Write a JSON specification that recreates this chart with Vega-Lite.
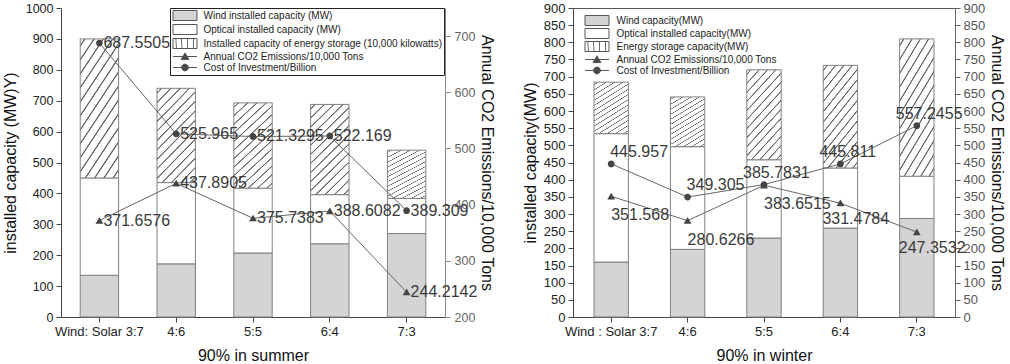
{
  "$schema": "https://vega.github.io/schema/vega-lite/v6.json",
  "padding": {"left": 2, "right": 2, "top": 1, "bottom": 0},
  "spacing": 26,
  "config": {
    "font": "Liberation Sans",
    "view": {"stroke": null},
    "axis": {"grid": false, "titleFontWeight": "normal", "titleFont": "Liberation Sans", "labelFont": "Liberation Sans"}
  },
  "resolve": {"scale": {"fill": "independent", "shape": "independent"}},
  "datasets": {
    "summerBars": [
      {"ratio": "Wind: Solar 3:7", "series": "Wind installed capacity (MW)", "value": 135},
      {"ratio": "Wind: Solar 3:7", "series": "Optical installed capacity (MW)", "value": 315},
      {"ratio": "Wind: Solar 3:7", "series": "Installed capacity of energy storage (10,000 kilowatts)", "value": 450},
      {"ratio": "4:6", "series": "Wind installed capacity (MW)", "value": 172},
      {"ratio": "4:6", "series": "Optical installed capacity (MW)", "value": 263},
      {"ratio": "4:6", "series": "Installed capacity of energy storage (10,000 kilowatts)", "value": 305},
      {"ratio": "5:5", "series": "Wind installed capacity (MW)", "value": 207},
      {"ratio": "5:5", "series": "Optical installed capacity (MW)", "value": 210},
      {"ratio": "5:5", "series": "Installed capacity of energy storage (10,000 kilowatts)", "value": 276},
      {"ratio": "6:4", "series": "Wind installed capacity (MW)", "value": 237},
      {"ratio": "6:4", "series": "Optical installed capacity (MW)", "value": 159},
      {"ratio": "6:4", "series": "Installed capacity of energy storage (10,000 kilowatts)", "value": 292},
      {"ratio": "7:3", "series": "Wind installed capacity (MW)", "value": 270},
      {"ratio": "7:3", "series": "Optical installed capacity (MW)", "value": 114},
      {"ratio": "7:3", "series": "Installed capacity of energy storage (10,000 kilowatts)", "value": 156}
    ],
    "summerLines": [
      {"ratio": "Wind: Solar 3:7", "series": "Annual CO2 Emissions/10,000 Tons", "value": 371.6576},
      {"ratio": "4:6", "series": "Annual CO2 Emissions/10,000 Tons", "value": 437.8905},
      {"ratio": "5:5", "series": "Annual CO2 Emissions/10,000 Tons", "value": 375.7383},
      {"ratio": "6:4", "series": "Annual CO2 Emissions/10,000 Tons", "value": 388.6082},
      {"ratio": "7:3", "series": "Annual CO2 Emissions/10,000 Tons", "value": 244.2142},
      {"ratio": "Wind: Solar 3:7", "series": "Cost of Investment/Billion", "value": 687.5505},
      {"ratio": "4:6", "series": "Cost of Investment/Billion", "value": 525.965},
      {"ratio": "5:5", "series": "Cost of Investment/Billion", "value": 521.3295},
      {"ratio": "6:4", "series": "Cost of Investment/Billion", "value": 522.169},
      {"ratio": "7:3", "series": "Cost of Investment/Billion", "value": 389.309}
    ],
    "winterBars": [
      {"ratio": "Wind : Solar 3:7", "series": "Wind capacity(MW)", "value": 160},
      {"ratio": "Wind : Solar 3:7", "series": "Optical installed capacity(MW)", "value": 374},
      {"ratio": "Wind : Solar 3:7", "series": "Energy storage capacity(MW)", "value": 150},
      {"ratio": "4:6", "series": "Wind capacity(MW)", "value": 197},
      {"ratio": "4:6", "series": "Optical installed capacity(MW)", "value": 299},
      {"ratio": "4:6", "series": "Energy storage capacity(MW)", "value": 145},
      {"ratio": "5:5", "series": "Wind capacity(MW)", "value": 230},
      {"ratio": "5:5", "series": "Optical installed capacity(MW)", "value": 228},
      {"ratio": "5:5", "series": "Energy storage capacity(MW)", "value": 262},
      {"ratio": "6:4", "series": "Wind capacity(MW)", "value": 259},
      {"ratio": "6:4", "series": "Optical installed capacity(MW)", "value": 175},
      {"ratio": "6:4", "series": "Energy storage capacity(MW)", "value": 299},
      {"ratio": "7:3", "series": "Wind capacity(MW)", "value": 287},
      {"ratio": "7:3", "series": "Optical installed capacity(MW)", "value": 123},
      {"ratio": "7:3", "series": "Energy storage capacity(MW)", "value": 400}
    ],
    "winterLines": [
      {"ratio": "Wind : Solar 3:7", "series": "Annual CO2 Emissions/10,000 Tons", "value": 351.568},
      {"ratio": "4:6", "series": "Annual CO2 Emissions/10,000 Tons", "value": 280.6266},
      {"ratio": "5:5", "series": "Annual CO2 Emissions/10,000 Tons", "value": 383.6515},
      {"ratio": "6:4", "series": "Annual CO2 Emissions/10,000 Tons", "value": 331.4784},
      {"ratio": "7:3", "series": "Annual CO2 Emissions/10,000 Tons", "value": 247.3532},
      {"ratio": "Wind : Solar 3:7", "series": "Cost of Investment/Billion", "value": 445.957},
      {"ratio": "4:6", "series": "Cost of Investment/Billion", "value": 349.305},
      {"ratio": "5:5", "series": "Cost of Investment/Billion", "value": 385.7831},
      {"ratio": "6:4", "series": "Cost of Investment/Billion", "value": 445.811},
      {"ratio": "7:3", "series": "Cost of Investment/Billion", "value": 557.2455}
    ]
  },
  "hconcat": [
    {
      "width": 384,
      "height": 309,
      "resolve": {"scale": {"y": "independent"}},
      "layer": [
        {
          "data": {"name": "summerBars"},
          "mark": {"type": "bar", "stroke": "#808080", "strokeWidth": 1},
          "encoding": {
            "x": {"field": "ratio", "type": "nominal", "sort": ["Wind: Solar 3:7", "4:6", "5:5", "6:4", "7:3"],
              "scale": {"paddingInner": 0.5, "paddingOuter": 0.25},
              "axis": {"title": "90% in summer", "labelAngle": 0, "tickSize": 5, "labelPadding": 3, "labelFontSize": 13, "labelColor": "#222", "titleFontSize": 16, "titleColor": "#111", "titlePadding": 9, "domainColor": "#444", "tickColor": "#444"}},
            "y": {"field": "value", "type": "quantitative", "stack": "zero",
              "scale": {"domain": [0, 1000], "nice": false},
              "axis": {"title": "installed capacity (MW)Y)", "format": "d", "values": [0, 100, 200, 300, 400, 500, 600, 700, 800, 900, 1000], "tickSize": 5, "labelPadding": 3, "labelFontSize": 12.5, "labelColor": "#222", "titleFontSize": 16, "titleColor": "#111", "titlePadding": 7, "domainColor": "#444", "tickColor": "#444"}},
            "fill": {"field": "series", "type": "nominal",
              "scale": {
                "domain": ["Wind installed capacity (MW)", "Optical installed capacity (MW)", "Installed capacity of energy storage (10,000 kilowatts)", "Annual CO2 Emissions/10,000 Tons", "Cost of Investment/Billion"],
                "range": [
                  "#d4d4d4",
                  "#ffffff",
                  {"expr": "{gradient:'linear',x1:0,y1:0,x2:0.5,y2:1.2,stops:[{offset:0,color:'#fff'},{offset:0.0267,color:'#fff'},{offset:0.0327,color:'#666'},{offset:0.0387,color:'#666'},{offset:0.0447,color:'#fff'},{offset:0.0981,color:'#fff'},{offset:0.1041,color:'#666'},{offset:0.1101,color:'#666'},{offset:0.1161,color:'#fff'},{offset:0.1696,color:'#fff'},{offset:0.1756,color:'#666'},{offset:0.1816,color:'#666'},{offset:0.1876,color:'#fff'},{offset:0.241,color:'#fff'},{offset:0.247,color:'#666'},{offset:0.253,color:'#666'},{offset:0.259,color:'#fff'},{offset:0.3124,color:'#fff'},{offset:0.3184,color:'#666'},{offset:0.3244,color:'#666'},{offset:0.3304,color:'#fff'},{offset:0.3839,color:'#fff'},{offset:0.3899,color:'#666'},{offset:0.3959,color:'#666'},{offset:0.4019,color:'#fff'},{offset:0.4553,color:'#fff'},{offset:0.4613,color:'#666'},{offset:0.4673,color:'#666'},{offset:0.4733,color:'#fff'},{offset:0.5267,color:'#fff'},{offset:0.5327,color:'#666'},{offset:0.5387,color:'#666'},{offset:0.5447,color:'#fff'},{offset:0.5981,color:'#fff'},{offset:0.6041,color:'#666'},{offset:0.6101,color:'#666'},{offset:0.6161,color:'#fff'},{offset:0.6696,color:'#fff'},{offset:0.6756,color:'#666'},{offset:0.6816,color:'#666'},{offset:0.6876,color:'#fff'},{offset:0.741,color:'#fff'},{offset:0.747,color:'#666'},{offset:0.753,color:'#666'},{offset:0.759,color:'#fff'},{offset:0.8124,color:'#fff'},{offset:0.8184,color:'#666'},{offset:0.8244,color:'#666'},{offset:0.8304,color:'#fff'},{offset:0.8839,color:'#fff'},{offset:0.8899,color:'#666'},{offset:0.8959,color:'#666'},{offset:0.9019,color:'#fff'},{offset:0.9553,color:'#fff'},{offset:0.9613,color:'#666'},{offset:0.9673,color:'#666'},{offset:0.9733,color:'#fff'},{offset:1,color:'#fff'}]}"},
                  "#444444",
                  "#444444"
                ]
              },
              "legend": {"title": null, "orient": "none", "legendX": 109, "legendY": 0, "strokeColor": "#222", "padding": 2, "labelFont": "Liberation Sans", "labelFontSize": 10, "labelColor": "#222", "symbolSize": 100, "symbolOffset": 7.5, "symbolStrokeColor": "#555", "symbolStrokeWidth": 1, "labelOffset": 13, "rowPadding": -1, "labelLimit": 400}},
            "order": {"field": "series", "sort": "descending"}
          }
        },
        {
          "data": {"name": "summerLines"},
          "encoding": {
            "x": {"field": "ratio", "type": "nominal", "sort": ["Wind: Solar 3:7", "4:6", "5:5", "6:4", "7:3"]},
            "y": {"field": "value", "type": "quantitative",
              "scale": {"domain": [200, 750], "nice": false},
              "axis": {"orient": "right", "title": "Annual CO2 Emissions/10,000 Tons", "values": [200, 300, 400, 500, 600, 700], "tickSize": 5, "labelPadding": 4, "labelFontSize": 12.5, "labelColor": "#666", "titleFontSize": 16, "titleColor": "#111", "titlePadding": 4, "domainColor": "#888", "tickColor": "#888"}}
          },
          "layer": [
            {"mark": {"type": "line", "stroke": "#666666", "strokeWidth": 1}, "encoding": {"detail": {"field": "series"}}},
            {"mark": {"type": "point", "filled": true, "size": 100, "opacity": 1, "strokeWidth": 0},
              "encoding": {
                "fill": {"field": "series", "type": "nominal"},
                "shape": {"field": "series", "type": "nominal",
                  "scale": {
                    "domain": ["Wind installed capacity (MW)", "Optical installed capacity (MW)", "Installed capacity of energy storage (10,000 kilowatts)", "Annual CO2 Emissions/10,000 Tons", "Cost of Investment/Billion"],
                    "range": ["M-2.4,-1H2.4V1H-2.4Z", "M-2.4,-1H2.4V1H-2.4Z", "M-2.4,-1H2.4V1H-2.4Z", "M-2.4,0H2.4M-0.78,0.62L0,-0.72L0.78,0.62Z", "M-2.4,0H2.4M0.68,0A0.68,0.68 0 1,1 -0.68,0A0.68,0.68 0 1,1 0.68,0Z"]
                  },
                  "legend": {"title": null, "orient": "none", "legendX": 109, "legendY": 0, "strokeColor": "#222", "padding": 2, "labelFont": "Liberation Sans", "labelFontSize": 10, "labelColor": "#222", "symbolSize": 100, "symbolOffset": 7.5, "symbolStrokeColor": "#555", "symbolStrokeWidth": 1, "labelOffset": 13, "rowPadding": -1, "labelLimit": 400}}
              }},
            {"mark": {"type": "text", "align": "left", "baseline": "middle", "dx": 4, "fontSize": 16, "color": "#3a3a3a", "font": "Liberation Sans"},
              "encoding": {"text": {"field": "value", "type": "quantitative"}}}
          ]
        }
      ]
    },
    {
      "width": 382,
      "height": 309,
      "view": {"stroke": "#555555"},
      "resolve": {"scale": {"y": "independent"}},
      "layer": [
        {
          "data": {"name": "winterBars"},
          "mark": {"type": "bar", "stroke": "#808080", "strokeWidth": 1},
          "encoding": {
            "x": {"field": "ratio", "type": "nominal", "sort": ["Wind : Solar 3:7", "4:6", "5:5", "6:4", "7:3"],
              "scale": {"paddingInner": 0.55, "paddingOuter": 0.275},
              "axis": {"title": "90% in winter", "labelAngle": 0, "tickSize": 5, "labelPadding": 3, "labelFontSize": 13, "labelColor": "#222", "titleFontSize": 16, "titleColor": "#111", "titlePadding": 9, "domainColor": "#444", "tickColor": "#444"}},
            "y": {"field": "value", "type": "quantitative", "stack": "zero",
              "scale": {"domain": [0, 900], "nice": false},
              "axis": {"title": "installed capacity(MW)", "format": "d", "values": [0, 50, 100, 150, 200, 250, 300, 350, 400, 450, 500, 550, 600, 650, 700, 750, 800, 850, 900], "tickSize": 5, "labelPadding": 3, "labelFontSize": 13, "labelColor": "#222", "titleFontSize": 16, "titleColor": "#111", "titlePadding": 5, "domainColor": "#444", "tickColor": "#444"}},
            "fill": {"field": "series", "type": "nominal",
              "scale": {
                "domain": ["Wind capacity(MW)", "Optical installed capacity(MW)", "Energy storage capacity(MW)", "Annual CO2 Emissions/10,000 Tons", "Cost of Investment/Billion"],
                "range": [
                  "#d4d4d4",
                  "#ffffff",
                  {"expr": "{gradient:'linear',x1:0,y1:0,x2:0.5,y2:1.2,stops:[{offset:0,color:'#fff'},{offset:0.0267,color:'#fff'},{offset:0.0327,color:'#666'},{offset:0.0387,color:'#666'},{offset:0.0447,color:'#fff'},{offset:0.0981,color:'#fff'},{offset:0.1041,color:'#666'},{offset:0.1101,color:'#666'},{offset:0.1161,color:'#fff'},{offset:0.1696,color:'#fff'},{offset:0.1756,color:'#666'},{offset:0.1816,color:'#666'},{offset:0.1876,color:'#fff'},{offset:0.241,color:'#fff'},{offset:0.247,color:'#666'},{offset:0.253,color:'#666'},{offset:0.259,color:'#fff'},{offset:0.3124,color:'#fff'},{offset:0.3184,color:'#666'},{offset:0.3244,color:'#666'},{offset:0.3304,color:'#fff'},{offset:0.3839,color:'#fff'},{offset:0.3899,color:'#666'},{offset:0.3959,color:'#666'},{offset:0.4019,color:'#fff'},{offset:0.4553,color:'#fff'},{offset:0.4613,color:'#666'},{offset:0.4673,color:'#666'},{offset:0.4733,color:'#fff'},{offset:0.5267,color:'#fff'},{offset:0.5327,color:'#666'},{offset:0.5387,color:'#666'},{offset:0.5447,color:'#fff'},{offset:0.5981,color:'#fff'},{offset:0.6041,color:'#666'},{offset:0.6101,color:'#666'},{offset:0.6161,color:'#fff'},{offset:0.6696,color:'#fff'},{offset:0.6756,color:'#666'},{offset:0.6816,color:'#666'},{offset:0.6876,color:'#fff'},{offset:0.741,color:'#fff'},{offset:0.747,color:'#666'},{offset:0.753,color:'#666'},{offset:0.759,color:'#fff'},{offset:0.8124,color:'#fff'},{offset:0.8184,color:'#666'},{offset:0.8244,color:'#666'},{offset:0.8304,color:'#fff'},{offset:0.8839,color:'#fff'},{offset:0.8899,color:'#666'},{offset:0.8959,color:'#666'},{offset:0.9019,color:'#fff'},{offset:0.9553,color:'#fff'},{offset:0.9613,color:'#666'},{offset:0.9673,color:'#666'},{offset:0.9733,color:'#fff'},{offset:1,color:'#fff'}]}"},
                  "#444444",
                  "#444444"
                ]
              },
              "legend": {"title": null, "orient": "none", "legendX": 11, "legendY": 7, "padding": 0, "labelFont": "Liberation Sans", "labelFontSize": 10, "labelColor": "#222", "symbolSize": 100, "symbolOffset": 7.5, "symbolStrokeColor": "#555", "symbolStrokeWidth": 1, "labelOffset": 14, "rowPadding": -2, "labelLimit": 400}},
            "order": {"field": "series", "sort": "descending"}
          }
        },
        {
          "data": {"name": "winterLines"},
          "encoding": {
            "x": {"field": "ratio", "type": "nominal", "sort": ["Wind : Solar 3:7", "4:6", "5:5", "6:4", "7:3"]},
            "y": {"field": "value", "type": "quantitative",
              "scale": {"domain": [0, 900], "nice": false},
              "axis": {"orient": "right", "title": "Annual CO2 Emissions/10,000 Tons", "format": "d", "values": [0, 50, 100, 150, 200, 250, 300, 350, 400, 450, 500, 550, 600, 650, 700, 750, 800, 850, 900], "tickSize": 5, "labelPadding": 3, "labelFontSize": 13, "labelColor": "#555", "titleFontSize": 16, "titleColor": "#111", "titlePadding": 4, "domainColor": "#666", "tickColor": "#666"}}
          },
          "layer": [
            {"mark": {"type": "line", "stroke": "#666666", "strokeWidth": 1}, "encoding": {"detail": {"field": "series"}}},
            {"mark": {"type": "point", "filled": true, "size": 100, "opacity": 1, "strokeWidth": 0},
              "encoding": {
                "fill": {"field": "series", "type": "nominal"},
                "shape": {"field": "series", "type": "nominal",
                  "scale": {
                    "domain": ["Wind capacity(MW)", "Optical installed capacity(MW)", "Energy storage capacity(MW)", "Annual CO2 Emissions/10,000 Tons", "Cost of Investment/Billion"],
                    "range": ["M-2.4,-1H2.4V1H-2.4Z", "M-2.4,-1H2.4V1H-2.4Z", "M-2.4,-1H2.4V1H-2.4Z", "M-2.4,0H2.4M-0.78,0.62L0,-0.72L0.78,0.62Z", "M-2.4,0H2.4M0.68,0A0.68,0.68 0 1,1 -0.68,0A0.68,0.68 0 1,1 0.68,0Z"]
                  },
                  "legend": {"title": null, "orient": "none", "legendX": 11, "legendY": 7, "padding": 0, "labelFont": "Liberation Sans", "labelFontSize": 10, "labelColor": "#222", "symbolSize": 100, "symbolOffset": 7.5, "symbolStrokeColor": "#555", "symbolStrokeWidth": 1, "labelOffset": 14, "rowPadding": -2, "labelLimit": 400}}
              }},
            {"transform": [{"filter": "datum.series === 'Cost of Investment/Billion' && (datum.ratio === 'Wind : Solar 3:7' || datum.ratio === '4:6')"}],
              "mark": {"type": "text", "align": "left", "baseline": "middle", "dx": -1, "dy": -12, "fontSize": 16, "color": "#3a3a3a", "font": "Liberation Sans"},
              "encoding": {"text": {"field": "value", "type": "quantitative"}}},
            {"transform": [{"filter": "datum.series === 'Cost of Investment/Billion' && datum.ratio !== 'Wind : Solar 3:7' && datum.ratio !== '4:6'"}],
              "mark": {"type": "text", "align": "left", "baseline": "middle", "dx": -21, "dy": -12, "fontSize": 16, "color": "#3a3a3a", "font": "Liberation Sans"},
              "encoding": {"text": {"field": "value", "type": "quantitative"}}},
            {"transform": [{"filter": "datum.series === 'Annual CO2 Emissions/10,000 Tons' && datum.ratio !== '6:4' && datum.ratio !== '7:3'"}],
              "mark": {"type": "text", "align": "left", "baseline": "middle", "dx": 0, "dy": 19, "fontSize": 16, "color": "#3a3a3a", "font": "Liberation Sans"},
              "encoding": {"text": {"field": "value", "type": "quantitative"}}},
            {"transform": [{"filter": "datum.series === 'Annual CO2 Emissions/10,000 Tons' && (datum.ratio === '6:4' || datum.ratio === '7:3')"}],
              "mark": {"type": "text", "align": "left", "baseline": "middle", "dx": -18, "dy": 16, "fontSize": 16, "color": "#3a3a3a", "font": "Liberation Sans"},
              "encoding": {"text": {"field": "value", "type": "quantitative"}}}
          ]
        }
      ]
    }
  ]
}
